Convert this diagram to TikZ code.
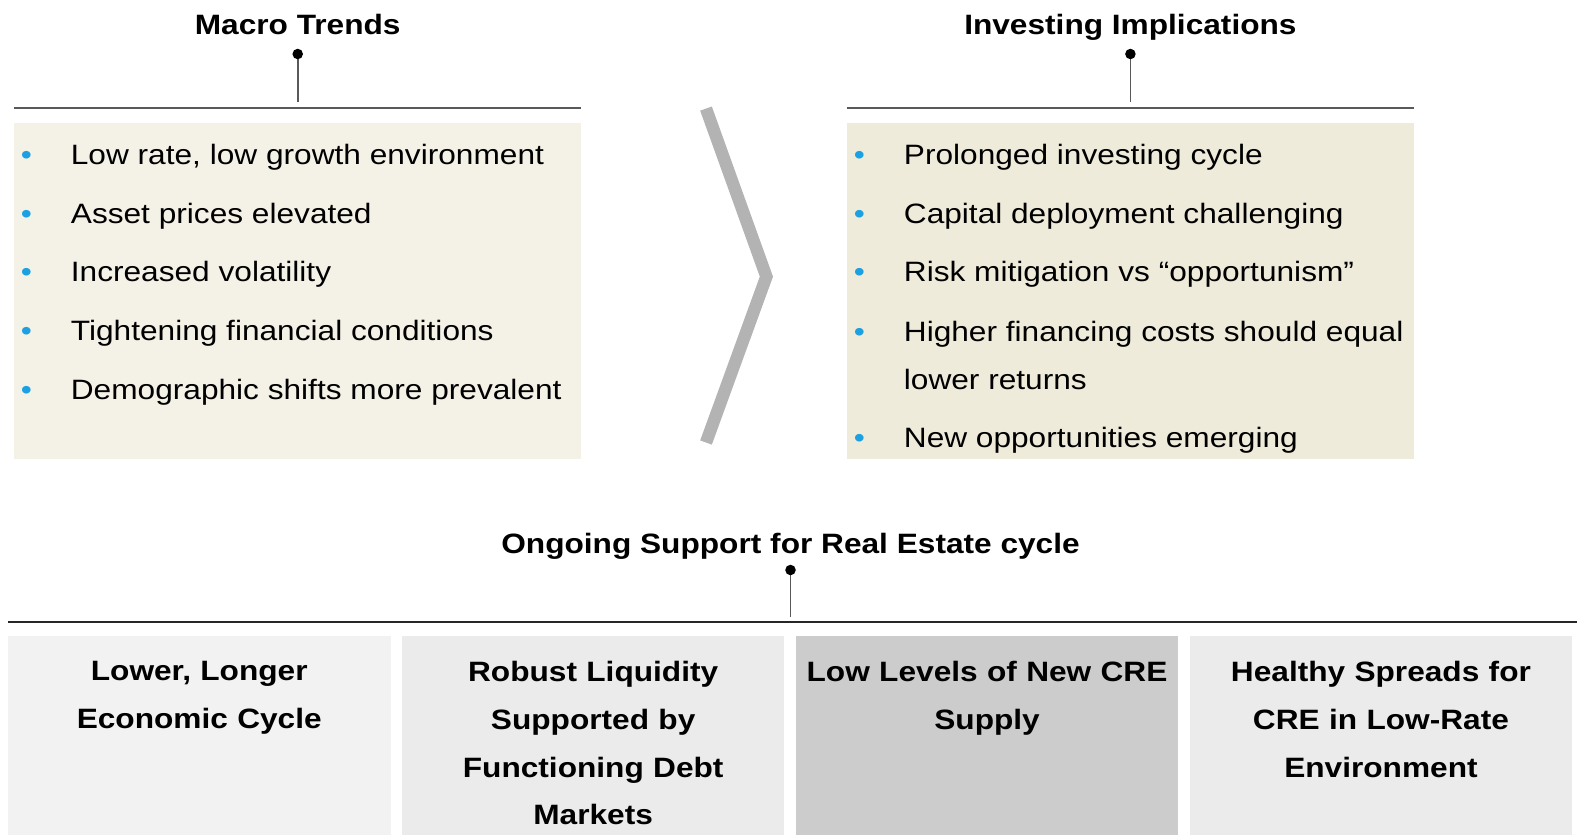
\documentclass[tikz,border=0pt]{standalone}
\usepackage{fontspec}
\setmainfont{Liberation Sans}[FakeStretch=1.13]
\usepackage{xcolor}
\definecolor{trendbeige}{HTML}{F4F1E6}
\definecolor{implbeige}{HTML}{EFEBDA}
\definecolor{bulletblue}{HTML}{1BA1E2}
\definecolor{rulegrey}{HTML}{595959}
\definecolor{chevgrey}{HTML}{B3B3B3}
\definecolor{celllight}{HTML}{F2F2F2}
\definecolor{cellmid}{HTML}{EBEBEB}
\definecolor{celldark}{HTML}{CCCCCC}
\usepackage{tikz}
\usetikzlibrary{arrows.meta, positioning}

% blue list marker, text starts a fixed distance after it
\newcommand{\bul}{\makebox[25pt][l]{\textcolor{bulletblue}{\textbullet}}}

\begin{document}
\begin{tikzpicture}[x=0.5pt, y=-0.5pt,
  heading/.style={font=\fontsize{14pt}{17pt}\selectfont\bfseries, anchor=base, inner sep=0pt},
  panel/.style={inner sep=0pt, outer sep=0pt, minimum width=283.6pt, minimum height=168pt},
  point/.style={font=\fontsize{14pt}{24pt}\selectfont, anchor=base west, inner sep=0pt},
  pin/.style={{Circle[length=5.2pt, color=black]}-, line width=0.8pt, rulegrey},
  rule/.style={line width=1pt, rulegrey},
  chevron/.style={line width=6.2pt, chevgrey},
  cell/.style={inner sep=0pt, outer sep=0pt, minimum width=191.25pt, minimum height=99.7pt},
  celltext/.style={font=\fontsize{14pt}{23.9pt}\selectfont\bfseries, align=center, text width=185pt, inner sep=0pt}]
\useasboundingbox (0,0) rectangle (1577,835);

% macro trends
\node[panel, fill=trendbeige] (trends) at (297.7,290.7) {};
\node[heading] (trends-title) at (297.7,34.5) {Macro Trends};
\coordinate (trends-pin) at (297.7,48.8);
\coordinate (trends-foot) at (297.7,101.7);
\draw[pin] (trends-pin) -- (trends-foot);
\draw[rule] ([yshift=7.2pt]trends.north west) -- ([yshift=7.2pt]trends.north east);

\node[point] (trend1) at (20.5,164.9) {\bul Low rate, low growth environment};
\node[point] (trend2) at (20.5,223.2) {\bul Asset prices elevated};
\node[point] (trend3) at (20.5,281.5) {\bul Increased volatility};
\node[point] (trend4) at (20.5,340.9) {\bul Tightening financial conditions};
\node[point] (trend5) at (20.5,399.2) {\bul Demographic shifts more prevalent};

% chevron between the columns
\draw[chevron] (706,108.6) -- (766.4,276.6) -- (706,442.5);

% investing implications
\node[panel, fill=implbeige] (impl) at (1130.4,290.7) {};
\node[heading] (impl-title) at (1130.4,34.5) {Investing Implications};
\coordinate (impl-pin) at (1130.4,48.8);
\coordinate (impl-foot) at (1130.4,101.7);
\draw[pin] (impl-pin) -- (impl-foot);
\draw[rule] ([yshift=7.2pt]impl.north west) -- ([yshift=7.2pt]impl.north east);

\node[point] (impl1) at (853.5,164.9) {\bul Prolonged investing cycle};
\node[point] (impl2) at (853.5,223.2) {\bul Capital deployment challenging};
\node[point] (impl3) at (853.5,281.5) {\bul Risk mitigation vs “opportunism”};
\node[point, anchor=north west, align=left] (impl4) at (853.5,320.6) {\bul Higher financing costs should equal\\\hspace*{25pt}lower returns};
\node[point] (impl5) at (853.5,447.5) {\bul New opportunities emerging};

% support row
\node[heading] (support-title) at (790.5,553.5) {Ongoing Support for Real Estate cycle};
\coordinate (support-pin) at (790.5,564.8);
\coordinate (support-foot) at (790.5,616.7);
\draw[pin] (support-pin) -- (support-foot);
\coordinate (support-west) at (8,621.7);
\coordinate (support-east) at (1577,621.7);
\draw[rule, black!85] (support-west) -- (support-east);

\node[cell, fill=celllight] (cell1) at (199.25,735.3) {};
\node[cell, fill=cellmid, right=5.7pt of cell1] (cell2) {};
\node[cell, fill=celldark, right=5.7pt of cell2] (cell3) {};
\node[cell, fill=cellmid, right=5.7pt of cell3] (cell4) {};

\node[celltext, below=12.6pt of cell1.north] (cell1-text) {Lower, Longer\\Economic Cycle};
\node[celltext, below=12.6pt of cell2.north] (cell2-text) {Robust Liquidity\\Supported by\\Functioning Debt\\Markets};
\node[celltext, below=12.6pt of cell3.north] (cell3-text) {Low Levels of New CRE\\Supply};
\node[celltext, below=12.6pt of cell4.north] (cell4-text) {Healthy Spreads for\\CRE in Low-Rate\\Environment};
\end{tikzpicture}
\end{document}
